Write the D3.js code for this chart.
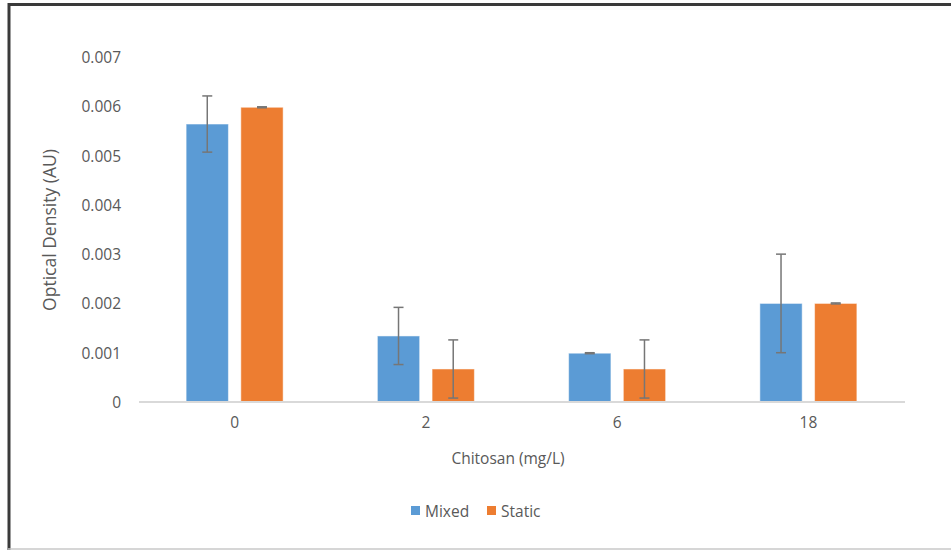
<!DOCTYPE html>
<html><head><meta charset="utf-8">
<script src="https://cdn.jsdelivr.net/npm/d3@7"></script>
<style>
body{margin:0;background:#fff;}
svg{display:block;}
text{font-family:"Open Sans","Liberation Sans",sans-serif;fill:#595959;}
</style></head>
<body><svg id="c" width="951" height="550"></svg>
<script>
const categories = ["0", "2", "6", "18"];
const seriesNames = ["Mixed", "Static"];
const mixedValues = [0.00564, 0.00134, 0.00099, 0.00200];
const mixedErrors = [0.00057, 0.00058, 0.00001, 0.00100];
const staticValues = [0.00598, 0.00067, 0.00067, 0.00200];
const staticErrors = [0.00001, 0.00059, 0.00059, 0.00001];
const yTicks = [0, 0.001, 0.002, 0.003, 0.004, 0.005, 0.006, 0.007];
const colors = ["#5b9bd5", "#ed7d31"];

const svg = d3.select("#c");
// outer frame
svg.append("line").attr("x1",8).attr("x2",951).attr("y1",4.5).attr("y2",4.5).attr("stroke","#3a3a3a").attr("stroke-width",3);
svg.append("line").attr("x1",9).attr("x2",9).attr("y1",3).attr("y2",550).attr("stroke","#3a3a3a").attr("stroke-width",3);
svg.append("line").attr("x1",8).attr("x2",951).attr("y1",549).attr("y2",549).attr("stroke","#c8c8c8").attr("stroke-width",1.5);

const x0 = d3.scaleBand().domain(categories).range([139, 904]).paddingInner(0).paddingOuter(0);
const x1 = d3.scaleBand().domain(seriesNames).range([0, 97]).paddingInner(0.227);
const y = d3.scaleLinear().domain([0, 0.007]).range([402, 57]);

// y tick labels
const yAxis = d3.axisLeft(y).tickValues(yTicks).tickSize(0).tickPadding(0)
  .tickFormat(d => d === 0 ? "0" : d3.format(".3f")(d));
const ga = svg.append("g").attr("transform","translate(121,0)").call(yAxis);
ga.select(".domain").remove();
ga.selectAll("text").attr("font-size",15.5).attr("fill","#595959").attr("dy","0.35em").style("font-family","'Open Sans','Liberation Sans',sans-serif");

// bars
const data = categories.map((c,i)=>({c, vals:[
  {s:"Mixed", v:mixedValues[i], e:mixedErrors[i], col:colors[0]},
  {s:"Static", v:staticValues[i], e:staticErrors[i], col:colors[1]}]}));
const groups = svg.append("g").selectAll("g").data(data).join("g")
  .attr("transform", d => `translate(${x0(d.c) + x0.bandwidth()/2 - 48.5},0)`);
groups.selectAll("rect").data(d=>d.vals).join("rect")
  .attr("x", d=>x1(d.s)).attr("width", x1.bandwidth())
  .attr("y", d=>y(d.v)).attr("height", d=>y(0)-y(d.v))
  .attr("fill", d=>d.col).attr("stroke","#ffffff").attr("stroke-opacity",0.5).attr("stroke-width",1);

// x axis line
svg.append("line").attr("x1",139).attr("x2",905).attr("y1",402).attr("y2",402).attr("stroke","#d9d9d9").attr("stroke-width",2);

// error bars
groups.each(function(d){
  const g = d3.select(this);
  d.vals.forEach(v=>{
    const cx = x1(v.s) + x1.bandwidth()/2;
    const t = y(v.v + v.e), b = y(v.v - v.e);
    g.append("line").attr("x1",cx).attr("x2",cx).attr("y1",t).attr("y2",b).attr("stroke","#767676").attr("stroke-width",1.5);
    [t,b].forEach(yy=>g.append("line").attr("x1",cx-5).attr("x2",cx+5).attr("y1",yy).attr("y2",yy).attr("stroke","#767676").attr("stroke-width",1.5));
  });
});

// x tick labels
const xAxis = d3.axisBottom(x0).tickSize(0).tickPadding(0);
const gx = svg.append("g").attr("transform","translate(0,417)").call(xAxis);
gx.select(".domain").remove();
gx.selectAll("text").attr("font-size",15.5).attr("fill","#595959").attr("dy","0.71em").style("font-family","'Open Sans','Liberation Sans',sans-serif");

// axis titles
svg.append("text").attr("x",508).attr("y",464).attr("text-anchor","middle").attr("font-size",15.5).text("Chitosan (mg/L)");
svg.append("text").attr("transform","translate(56,230) rotate(-90)").attr("text-anchor","middle").attr("font-size",17.5).text("Optical Density (AU)");

// legend
const legendX = [411, 487];
seriesNames.forEach((s,i)=>{
  svg.append("rect").attr("x",legendX[i]).attr("y",506).attr("width",9).attr("height",9).attr("fill",colors[i]);
  svg.append("text").attr("x",legendX[i]+14).attr("y",516.5).attr("font-size",15.5).text(s);
});
</script></body></html>
